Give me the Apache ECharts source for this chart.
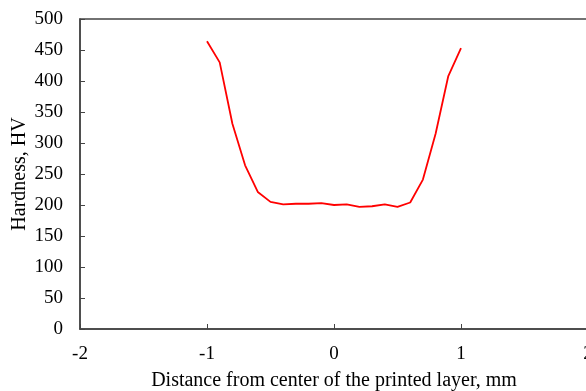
<!DOCTYPE html>
<html>
<head>
<meta charset="utf-8">
<script src="https://cdn.jsdelivr.net/npm/echarts@6/dist/echarts.min.js"></script>
<style>html,body{margin:0;padding:0;background:#fff}#c{width:586px;height:391px}</style>
</head>
<body>
<div id="c"></div>
<script>
const distance = [-1.0,-0.9,-0.8,-0.7,-0.6,-0.5,-0.4,-0.3,-0.2,-0.1,0.0,0.1,0.2,0.3,0.4,0.5,0.6,0.7,0.8,0.9,1.0];
const hardness = [464,430,331,264,221,205,201,202,202,203,200,201,197,198,201,197,204,241,315,408,453];
const xTicks = [-2,-1,0,1,2];
const yTicks = [0,50,100,150,200,250,300,350,400,450,500];

const chart = echarts.init(document.getElementById('c'), null, {renderer:'canvas'});
const font = 'Liberation Serif';
const axisColor = '#444';
chart.setOption({
  animation:false,
  grid:{left:80,right:-2,top:19,bottom:62,show:true,borderColor:axisColor,borderWidth:1.5,containLabel:false,outerBoundsMode:'none'},
  xAxis:{
    type:'value',min:xTicks[0],max:xTicks[xTicks.length-1],interval:1,
    name:'Distance from center of the printed layer, mm',nameLocation:'middle',nameGap:42,nameMoveOverlap:false,
    nameTextStyle:{fontFamily:font,fontSize:20,color:'#000'},
    axisLine:{show:true,onZero:false,lineStyle:{color:axisColor,width:1.5}},
    axisTick:{show:true,inside:true,length:5,lineStyle:{color:axisColor}},
    axisLabel:{fontFamily:font,fontSize:19,color:'#000',margin:16},
    splitLine:{show:false}
  },
  yAxis:{
    type:'value',min:yTicks[0],max:yTicks[yTicks.length-1],interval:50,
    name:'Hardness, HV',nameLocation:'middle',nameGap:50,nameMoveOverlap:false,
    nameTextStyle:{fontFamily:font,fontSize:20,color:'#000'},
    axisLine:{show:true,onZero:false,lineStyle:{color:axisColor,width:1.5}},
    axisTick:{show:true,inside:true,length:5,lineStyle:{color:axisColor}},
    axisLabel:{fontFamily:font,fontSize:19,color:'#000',margin:17},
    splitLine:{show:false}
  },
  series:[{
    type:'line',
    data:distance.map((d,i)=>[d,hardness[i]]),
    showSymbol:false,symbol:'none',
    lineStyle:{color:'#ff0000',width:1.8},
    itemStyle:{color:'#ff0000'}
  }]
});
</script>
</body>
</html>
